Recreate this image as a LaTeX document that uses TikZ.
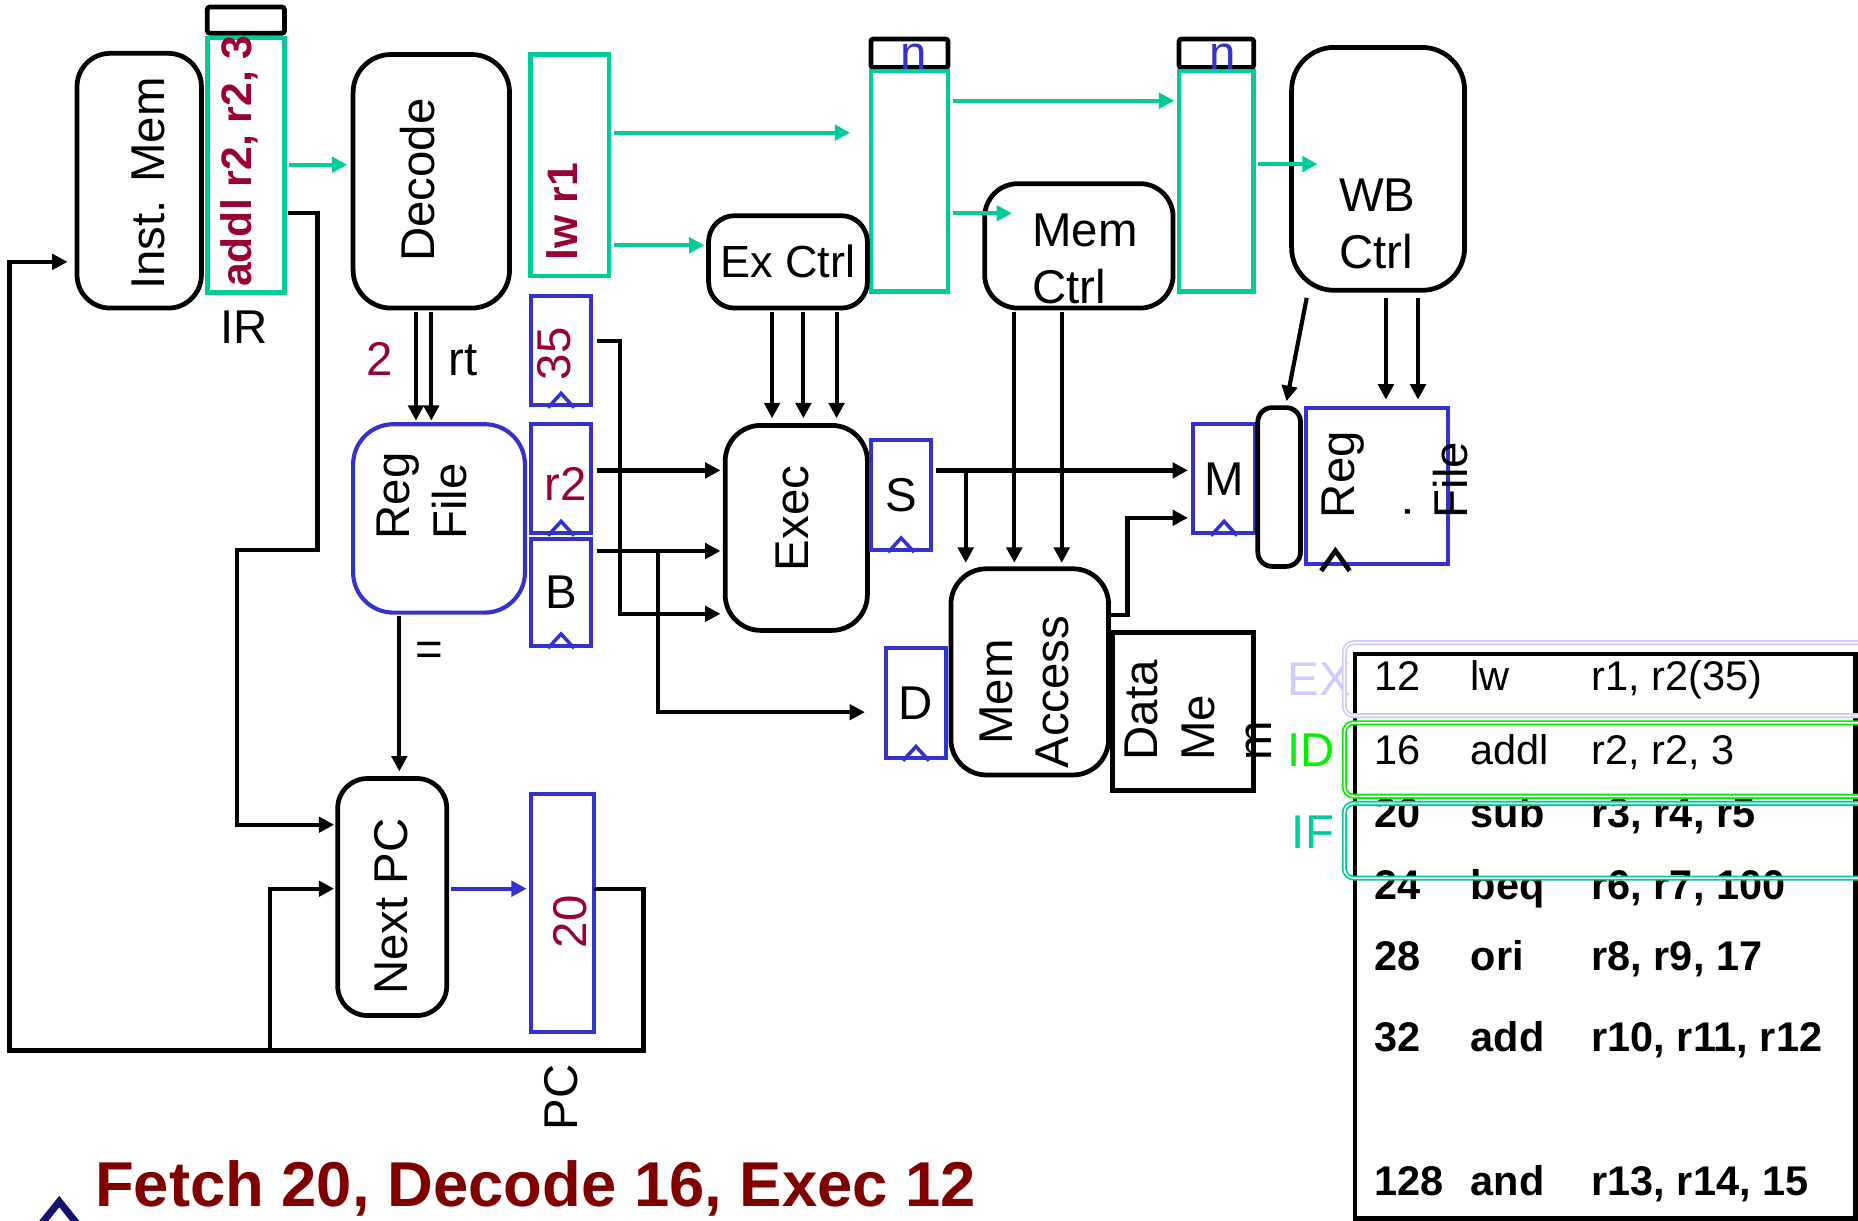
\documentclass[tikz,border=0pt]{standalone}
\usepackage{fontspec}
\setmainfont{Liberation Sans}
\usetikzlibrary{arrows.meta}

\begin{document}
\begin{tikzpicture}[x=1pt,y=-1pt,
  font=\fontsize{40}{48}\selectfont,
  unit/.style={draw,line width=4pt,rounded corners=28pt,inner sep=0pt,outer sep=0pt},
  pipereg/.style={draw=pipegreen,line width=4pt,inner sep=0pt,outer sep=0pt},
  latch/.style={draw=regblue,line width=3.5pt,inner sep=0pt,outer sep=0pt},
  topcap/.style={draw,line width=4pt,rounded corners=2pt,inner sep=0pt,outer sep=0pt},
  wire/.style={line width=3.5pt,-{Triangle[length=13pt,width=13pt]},shorten <=3pt,shorten >=3pt},
  gwire/.style={pipegreen,line width=3.5pt,-{Triangle[length=13pt,width=13pt]},shorten <=4pt},
  vtext/.style={rotate=90,inner sep=0pt},
  valtext/.style={text=valred,font=\fontsize{36}{43}\selectfont\bfseries},
  stagebox/.style={draw=#1,double,double distance=1.3pt,line width=1.5pt,rounded corners=8pt,inner sep=0pt,outer sep=0pt},
  ]
\definecolor{pipegreen}{HTML}{00CC99}
\definecolor{regblue}{HTML}{3333CC}
\definecolor{valred}{HTML}{990033}
\definecolor{titlered}{HTML}{800000}
\definecolor{exlav}{HTML}{CCCCFF}
\definecolor{idgreen}{HTML}{00F000}
\definecolor{navy}{HTML}{14146E}
\useasboundingbox (0,0) rectangle (1568,1030);
\clip (0,0) rectangle (1568,1030);

% fetch and decode
\node[unit,minimum width=105pt,minimum height=215pt] (instmem) at (117.5,152.5) {};
\node[vtext] (instmemtxt) at (125,155) {Inst. Mem};
\node[topcap,minimum width=65pt,minimum height=22pt] (ircap) at (207.5,17) {};
\node[pipereg,minimum width=65pt,minimum height=215pt] (ir) at (207.5,139.5) {};
\node[vtext,valtext] (irtxt) at (202,136) {addl r2, r2, 3};
\node (irlbl) at (206,276) {IR};
\node[unit,rounded corners=32pt,minimum width=132pt,minimum height=214pt] (decode) at (364,153) {};
\node[vtext] (decodetxt) at (352,152) {Decode};
\node[pipereg,minimum width=66pt,minimum height=187pt] (lwr1) at (481,139.5) {};
\node[vtext,valtext] (lwtxt) at (474,178.5) {lw r1};
\node[latch,minimum width=51pt,minimum height=92pt] (b35) at (473.5,296) {};
\node[vtext,text=valred] (b35txt) at (468,298.5) {35};

% pipeline registers and control
\node[topcap,minimum width=65pt,minimum height=24pt] (excap) at (767.5,45) {};
\node[pipereg,minimum width=65pt,minimum height=186pt] (expipe) at (767.5,153) {};
\node[text=regblue,inner sep=0pt] (exn) at (771,47.5) {n};
\node[topcap,minimum width=63pt,minimum height=24pt] (wbcap) at (1026.5,45) {};
\node[pipereg,minimum width=63pt,minimum height=186pt] (wbpipe) at (1026.5,153) {};
\node[text=regblue,inner sep=0pt] (wbn) at (1031.5,47.5) {n};
\node[unit,rounded corners=22pt,minimum width=134pt,minimum height=78pt,font=\fontsize{38}{46}\selectfont] (exctrl) at (665,221) {Ex Ctrl};
\node[unit,minimum width=159pt,minimum height=105pt] (memctrl) at (910.5,207.5) {};
\node[anchor=north west,align=left,inner sep=0pt] (memctrltxt) at (871,180) {Mem\\Ctrl};
\node[unit,rounded corners=36pt,minimum width=146pt,minimum height=205pt] (wbctrl) at (1163,142.5) {};
\node[anchor=north west,align=left,inner sep=0pt] (wbctrltxt) at (1130,151) {WB\\Ctrl};

% datapath
\node[unit,draw=regblue,line width=3.5pt,rounded corners=34pt,minimum width=145pt,minimum height=159pt] (regfile) at (370.5,437.5) {};
\node[vtext,anchor=north west,align=left] (regfiletxt) at (317.6,455.5) {Reg\\File};
\node[latch,minimum width=51pt,minimum height=92pt] (r2box) at (473.5,404) {};
\node[text=valred,inner sep=0pt] (r2txt) at (477.5,408) {r2};
\node[latch,minimum width=51pt,minimum height=90pt] (bbox) at (473.5,500) {B};
\node[unit,rounded corners=30pt,minimum width=120pt,minimum height=173pt] (exec) at (672,445.5) {};
\node[vtext] (exectxt) at (668.5,437.5) {Exec};
\node[latch,minimum width=51pt,minimum height=93pt] (sbox) at (760.5,417.5) {S};
\node[latch,minimum width=51pt,minimum height=93pt] (dbox) at (773,593.5) {D};
\node[unit,rounded corners=30pt,minimum width=133pt,minimum height=174pt] (memacc) at (869,567) {};
\node[vtext,align=center] (memacctxt) at (864.5,584) {Mem\\Access};
\node[draw,line width=4pt,inner sep=0pt,minimum width=119pt,minimum height=133pt] (datamem) at (998.5,600.5) {};
\node[vtext,anchor=north west,align=left] (datamemtxt) at (949,642) {Data\\Me\\m};
\node[latch,minimum width=52pt,minimum height=92pt] (mbox) at (1033,404) {M};
\node[unit,rounded corners=12pt,minimum width=36pt,minimum height=134pt] (mux) at (1079.5,411) {};
\node[draw=regblue,line width=3.5pt,inner sep=0pt,minimum width=119.5pt,minimum height=132pt] (regfile2) at (1162,410) {};
\node[vtext,anchor=north west,align=left] (regfile2txt) at (1115,437.5) {Reg\\.\\File};
\node[unit,rounded corners=25pt,minimum width=92pt,minimum height=200pt] (nextpc) at (331,757) {};
\node[vtext] (nextpctxt) at (330,765) {Next PC};
\node[latch,minimum width=53pt,minimum height=201pt] (pc) at (474.5,770.5) {};
\node[vtext,text=valred] (pctxt) at (481,778) {20};
\node[vtext] (pclbl) at (473.6,926) {PC};
\node[text=valred] (rslbl) at (320,303) {2};
\node (rtlbl) at (391,304) {rt};
\node (eqlbl) at (362,551.5) {=};

% clock marks
\foreach \r in {b35,r2box,bbox,sbox,dbox,mbox}
  \draw[regblue,line width=3pt] ([xshift=-11pt,yshift=-2pt]\r.south) -- ([yshift=10pt]\r.south) -- ([xshift=11pt,yshift=-2pt]\r.south);
\draw[line width=4pt] ([xshift=14.5pt,yshift=-4pt]regfile2.south west) -- ([xshift=26.5pt,yshift=13pt]regfile2.south west) -- ([xshift=38.5pt,yshift=-4pt]regfile2.south west);

% control flow
\draw[gwire,shorten >=5pt] (ir.east |- 0,139) -- (decode.west |- 0,139);
\draw[gwire,shorten >=17.5pt] (lwr1.east |- 0,112) -- (expipe.west |- 0,112);
\draw[gwire,shorten >=3.5pt] (lwr1.east |- 0,207) -- (exctrl.west |- 0,207);
\draw[gwire,shorten >=4pt] (expipe.east |- 0,85) -- (wbpipe.west |- 0,85);
\draw[gwire,shorten >=-23pt] (expipe.east |- 0,180) -- (memctrl.west |- 0,180);
\draw[gwire,shorten >=-22pt] (wbpipe.east |- 0,138.5) -- (wbctrl.west |- 0,138.5);
\foreach \x in {351,364}
  \draw[wire] (\x,0 |- decode.south) -- (\x,0 |- regfile.north);
\foreach \x in {651.6,678,706}
  \draw[wire,shorten >=6pt] (\x,0 |- exctrl.south) -- (\x,0 |- exec.north);
\foreach \x in {856,896}
  \draw[wire,shorten >=5pt] (\x,0 |- memctrl.south) -- (\x,0 |- memacc.north);
\foreach \x in {1169.6,1196.7}
  \draw[wire,shorten <=6.5pt,shorten >=5pt] (\x,0 |- wbctrl.south) -- (\x,0 |- regfile2.north);
\draw[wire,shorten <=6.5pt,shorten >=5.5pt] (1104,0 |- wbctrl.south) -- (1084.7,0 |- mux.north);

% data flow
\draw[wire,shorten <=5pt,shorten >=4pt] (b35.east |- 0,288) -- ++(24,0) |- (exec.west |- 0,518);
\draw[wire,shorten <=5pt,shorten >=4pt] (r2box.east |- 0,397) -- (exec.west |- 0,397);
\draw[wire,shorten <=5pt,shorten >=4pt] (bbox.east |- 0,465) -- (exec.west |- 0,465);
\coordinate (btap) at (555,465);
\draw[wire,shorten <=0pt,shorten >=17.6pt] (btap) |- (dbox.west |- 0,601);
\draw[wire,shorten <=4pt,shorten >=4.5pt] (sbox.east |- 0,397) -- (mbox.west |- 0,397);
\coordinate (stap) at (815,397);
\draw[wire,shorten <=0pt,shorten >=5pt] (stap) -- (stap |- memacc.north);
\draw[wire,shorten <=0pt,shorten >=4.5pt] (memacc.east |- 0,519) -- ++(16,0) |- (mbox.west |- 0,437);
\draw[wire,shorten >=6pt] (regfile.south -| 337,0) -- (nextpc.north -| 337,0);
\draw[wire] (ir.east |- 0,180) -| (268,464) -| (200,696) -- (nextpc.west |- 0,696);
\draw[wire,shorten <=0pt,shorten >=8pt] (pc.east |- 0,750) -| (543,886.5) -| (8,221) -- (instmem.west |- 0,221);
\coordinate (pcloop) at (228,886.5);
\draw[wire,shorten <=0pt] (pcloop) |- (nextpc.west |- 0,750);
\draw[wire,regblue,shorten <=4pt,shorten >=3.5pt] (nextpc.east |- 0,750) -- (pc.west |- 0,750);

% program listing
\node[draw,line width=4pt,inner sep=0pt,minimum width=422.5pt,minimum height=476pt] (prog) at (1354.75,790) {};
\foreach \rw/\yy/\adr/\op/\args/\wt in {
    a/583/12/lw/{r1, r2(35)}/\mdseries,
    b/645/16/addl/{r2, r2, 3}/\mdseries,
    c/698/20/sub/{r3, r4, r5}/\bfseries,
    d/759/24/beq/{r6, r7, 100}/\bfseries,
    e/819/28/ori/{r8, r9, 17}/\bfseries,
    f/887/32/add/{r10, r11, r12}/\bfseries,
    g/1008.5/128/and/{r13, r14, 15}/\bfseries}
{
  \node[anchor=base west,inner sep=0pt,font=\fontsize{35}{42}\selectfont\wt] (adr\rw) at (1160,\yy) {\adr};
  \node[anchor=base west,inner sep=0pt,font=\fontsize{35}{42}\selectfont\wt] (op\rw) at (1241,\yy) {\op};
  \node[anchor=base west,inner sep=0pt,font=\fontsize{35}{42}\selectfont\wt] (args\rw) at (1343,\yy) {\args};
}
\node[text=exlav,anchor=base east,inner sep=0pt] (exlbl) at (1140,587) {EX};
\node[text=idgreen,anchor=base east,inner sep=0pt] (idlbl) at (1127,647) {ID};
\node[text=pipegreen,anchor=base east,inner sep=0pt] (iflbl) at (1126,716) {IF};
\node[stagebox=exlav,anchor=west,minimum width=460pt,minimum height=61.6pt] (exstage) at (1134.5,573.2) {};
\node[stagebox=idgreen,anchor=west,minimum width=460pt,minimum height=62pt] (idstage) at (1134.5,641) {};
\node[stagebox=pipegreen,anchor=west,minimum width=460pt,minimum height=63pt] (ifstage) at (1134.5,709.5) {};

% caption
\draw[navy,line width=6pt] (34,1034) -- (50,1014) -- (66,1034);
\node[anchor=base west,inner sep=0pt,text=titlered,font=\fontsize{53.5}{62}\selectfont\bfseries] (caption) at (80,1018) {Fetch 20, Decode 16, Exec 12};
\end{tikzpicture}
\end{document}
